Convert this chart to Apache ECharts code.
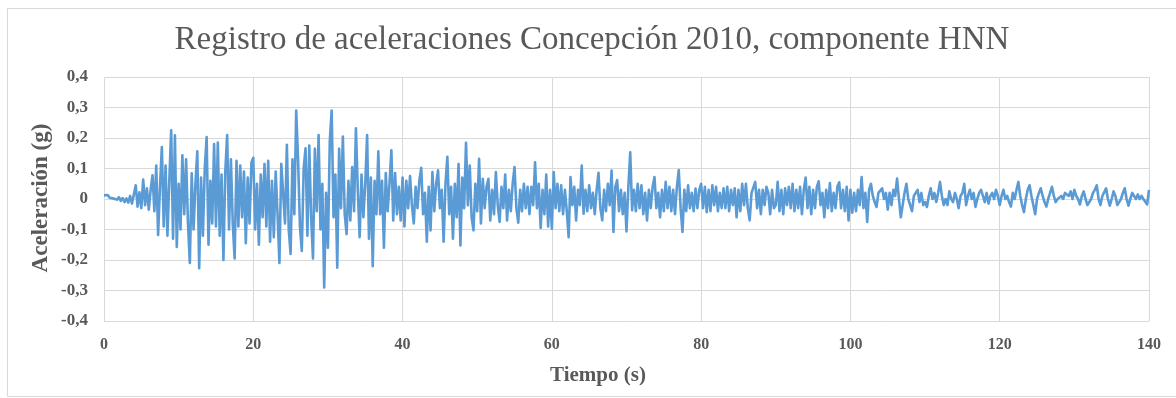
<!DOCTYPE html>
<html>
<head>
<meta charset="utf-8">
<script src="https://cdn.jsdelivr.net/npm/echarts@6/dist/echarts.min.js"></script>
<style>
html,body{margin:0;padding:0;background:#fff;}
#c{width:1176px;height:398px;}
</style>
</head>
<body>
<div id="c"></div>
<script>
// Sampling step of the hand-read record (s)
var timeStep = 0.25;
// Acceleration (g), in 20 s segments
var accel_0_20 = [
0.012,0.006,0.013,0.004, 0.010,0.002,0.008,-0.002, 0.006,-0.006,0.003,-0.010, 0.002,-0.012,0.010,-0.015,
-0.012,0.045,-0.025,0.022, -0.030,0.064,-0.020,0.035, -0.035,0.030,0.078,-0.040, 0.110,-0.118,0.040,0.170,
-0.090,0.110,-0.120,0.060, 0.225,-0.130,0.209,-0.157, 0.050,-0.100,0.143,-0.050, 0.130,-0.080,-0.210,0.084,
-0.100,0.050,0.156,-0.227, 0.070,-0.120,0.100,0.203, -0.150,0.060,-0.080,0.180, -0.090,0.185,-0.120,0.080,
-0.200,0.090,0.210,-0.100, 0.130,-0.080,-0.195,0.125, -0.090,0.110,-0.060,0.090, -0.145,0.070,-0.080,0.120
];
var accel_20_40 = [
0.135,-0.100,0.050,-0.150, 0.080,-0.060,0.115,-0.090, 0.125,-0.140,0.060,-0.125, 0.090,-0.050,-0.210,0.115,
0.120,-0.080,0.178,-0.100, -0.180,0.130,-0.050,0.290, 0.130,-0.090,-0.170,0.100, 0.166,-0.120,0.175,-0.060,
-0.195,0.165,-0.040,0.210, -0.100,0.050,-0.290,0.020, -0.160,0.190,0.290,-0.060, 0.080,-0.225,0.165,-0.030,
0.205,-0.050,-0.115,0.060, -0.070,0.105,-0.040,0.232, 0.030,-0.125,0.080,-0.060, 0.050,0.210,-0.130,0.070,
-0.220,0.060,-0.050,0.156, -0.050,0.060,-0.160,0.085, -0.040,0.050,0.160,-0.070, 0.085,-0.050,0.040,-0.070
];
var accel_40_60 = [
0.070,-0.090,0.060,-0.030, 0.075,-0.020,-0.080,0.040, -0.030,0.060,0.102,-0.050, 0.020,-0.140,0.040,-0.103,
0.088,-0.040,0.050,0.094, -0.030,0.030,-0.140,0.050, 0.138,-0.050,0.040,-0.130, 0.050,-0.060,0.115,-0.152,
0.070,-0.030,0.184,-0.020, 0.110,-0.060,-0.103,0.050, -0.040,0.132,-0.080,0.066, -0.030,0.040,0.066,-0.070,
0.030,-0.050,0.088,-0.020, -0.075,0.040,-0.030,0.080, -0.070,0.030,-0.040,0.050, 0.105,-0.030,-0.078,0.030,
-0.040,0.050,-0.030,0.040, -0.050,0.040,-0.020,0.120, -0.030,0.050,-0.095,0.030, -0.050,0.080,-0.090,0.030
];
var accel_60_80 = [
-0.097,0.088,-0.030,0.050, -0.040,0.045,-0.050,0.030, -0.040,-0.125,0.072,-0.020, 0.040,-0.070,0.030,-0.020,
0.110,-0.048,0.030,-0.040, 0.045,-0.030,0.020,-0.050, 0.030,0.086,-0.030,-0.070, 0.030,-0.040,0.050,-0.020,
0.093,-0.108,0.040,0.062, -0.040,0.030,-0.050,0.020, -0.106,0.040,0.153,-0.037, 0.030,-0.040,0.050,-0.030,
0.045,-0.050,0.020,-0.070, 0.030,-0.030,0.040,0.072, -0.030,0.020,-0.060,0.030, -0.040,0.056,-0.030,0.040,
-0.040,0.030,-0.050,0.040, 0.095,-0.030,-0.108,0.030, -0.040,0.045,-0.030,0.020, -0.040,0.034,-0.030,0.030
];
var accel_80_100 = [
0.050,-0.030,0.040,-0.043, 0.030,-0.040,0.045,-0.020, 0.040,-0.040,0.020,-0.030, 0.035,-0.030,0.040,-0.040,
0.030,-0.020,0.035,-0.060, 0.030,-0.040,0.050,-0.020, 0.050,-0.030,-0.070,0.020, 0.020,0.056,-0.030,0.030,
-0.050,0.030,-0.020,0.040, 0.020,-0.050,0.030,-0.030, -0.020,0.056,-0.040,0.030, -0.050,0.035,-0.020,0.040,
-0.030,0.050,-0.040,0.030, -0.030,0.040,-0.050,0.030, 0.070,-0.030,0.040,-0.050, 0.030,-0.030,0.040,0.058,
-0.020,0.020,-0.060,0.030, -0.030,0.052,-0.040,0.020, -0.030,0.040,0.055,-0.030, 0.030,-0.040,0.040,-0.070
];
var accel_100_120 = [
0.030,-0.045,0.020,-0.040, 0.030,-0.020,0.072,-0.030, 0.020,-0.075,0.030,0.050, 0.010,-0.010,-0.026,0.020,
0.020,0.035,0.000,0.020, -0.035,0.020,-0.020,0.030, 0.010,0.067,0.000,-0.060, -0.020,0.020,0.050,0.000,
-0.020,-0.040,0.010,0.020, 0.030,-0.010,0.020,-0.020, -0.010,-0.026,0.010,0.035, 0.000,0.020,-0.010,0.020,
0.056,0.010,-0.020,0.000, -0.020,0.025,0.000,-0.010, 0.020,0.000,-0.030,0.010, 0.020,0.050,-0.020,0.010,
0.030,0.000,0.020,-0.026, 0.000,0.020,0.030,0.010, -0.010,0.020,-0.015,0.010, 0.020,0.000,0.030,0.010
];
var accel_120_140 = [
-0.020,0.010,0.030,0.000, 0.010,-0.010,-0.025,0.020, 0.000,0.030,0.056,0.010, -0.020,-0.043,0.000,0.030,
0.045,0.010,-0.020,-0.050, 0.000,0.020,0.035,0.010, -0.010,-0.025,0.000,0.020, 0.040,0.010,-0.010,0.000,
-0.005,0.010,0.000,0.020, 0.020,0.010,0.025,0.000, 0.030,0.010,0.000,-0.018, 0.010,0.025,0.000,-0.020,
-0.020,0.000,0.020,0.030, 0.045,0.000,-0.020,0.010, 0.010,0.035,0.000,-0.022, 0.000,0.025,0.010,-0.020,
-0.022,0.000,0.020,0.035, 0.000,-0.022,0.000,0.020, 0.020,0.000,0.015,0.000, 0.010,0.000,0.005,-0.018,
0.030
];
var xTicks = [0, 20, 40, 60, 80, 100, 120, 140];
var yTicks = [-0.4, -0.3, -0.2, -0.1, 0, 0.1, 0.2, 0.3, 0.4];

var accel = [].concat(accel_0_20, accel_20_40, accel_40_60, accel_60_80, accel_80_100, accel_100_120, accel_120_140);
var seriesData = accel.map(function (v, i) { return [i * timeStep, v]; });

var serif = '"Liberation Serif", "Times New Roman", serif';
var grey = '#595959';
var chart = echarts.init(document.getElementById('c'), null, {renderer: 'canvas'});
chart.setOption({
  animation: false,
  backgroundColor: '#ffffff',
  grid: {left: 104, right: 27, top: 77, bottom: 77, containLabel: false},
  xAxis: {
    type: 'value',
    min: xTicks[0], max: xTicks[xTicks.length - 1], interval: 20,
    axisLine: {show: false}, axisTick: {show: false},
    splitLine: {show: true, lineStyle: {color: '#d9d9d9', width: 1}},
    axisLabel: {color: grey, fontFamily: serif, fontWeight: 'bold', fontSize: 16, margin: 16,
      formatter: function (v) { return String(v); }}
  },
  yAxis: {
    type: 'value',
    min: yTicks[0], max: yTicks[yTicks.length - 1], interval: 0.1,
    axisLine: {show: false}, axisTick: {show: false},
    splitLine: {show: true, lineStyle: {color: '#d9d9d9', width: 1}},
    axisLabel: {color: grey, fontFamily: serif, fontWeight: 'bold', fontSize: 17, margin: 16,
      formatter: function (v) {
        var r = Math.round(v * 10) / 10;
        if (r === 0) return '0';
        return r.toFixed(1).replace('.', ',');
      }}
  },
  series: [{
    type: 'line',
    data: seriesData,
    showSymbol: false,
    symbol: 'none',
    sampling: null,
    lineStyle: {color: '#5B9BD5', width: 2.6, join: 'round'},
    z: 3
  }],
  graphic: [
    {type: 'rect', silent: true, z: -1,
     shape: {x: 7.5, y: 8.5, width: 1200, height: 388},
     style: {fill: 'none', stroke: '#d9d9d9', lineWidth: 1}},
    {type: 'text', x: 592, y: 40, silent: true,
     style: {text: 'Registro de aceleraciones Concepción 2010, componente HNN',
       fill: grey, font: '33px ' + serif, textAlign: 'center', textVerticalAlign: 'middle'}},
    {type: 'text', x: 598, y: 376, silent: true,
     style: {text: 'Tiempo (s)', fill: grey, font: 'bold 21px ' + serif,
       textAlign: 'center', textVerticalAlign: 'middle'}},
    {type: 'text', x: 41, y: 198, rotation: Math.PI / 2, silent: true,
     style: {text: 'Aceleración (g)', fill: grey, font: 'bold 23px ' + serif,
       textAlign: 'center', textVerticalAlign: 'middle'}}
  ]
});
</script>
</body>
</html>
